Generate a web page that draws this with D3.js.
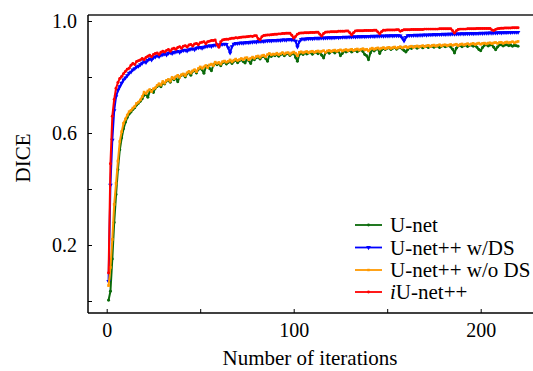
<!DOCTYPE html>
<html>
<head>
<meta charset="utf-8">
<script src="https://cdn.jsdelivr.net/npm/d3@7"></script>
<style>
  body { margin: 0; background: #fff; }
  text { font-family: "Liberation Serif", "Times New Roman", serif; fill: #000; }
</style>
</head>
<body>
<div id="chart"></div>
<script>
// DICE per iteration (iteration 1..220)
const unet = [
  0.003, 0.035, 0.150, 0.280, 0.380, 0.470, 0.540, 0.582, 0.615, 0.638,
  0.655, 0.668, 0.675, 0.684, 0.690, 0.700, 0.706, 0.713, 0.722, 0.735,
  0.738, 0.728, 0.748, 0.752, 0.745, 0.760, 0.766, 0.772, 0.765, 0.778,
  0.775, 0.786, 0.789, 0.781, 0.796, 0.790, 0.799, 0.783, 0.800, 0.806,
  0.808, 0.800, 0.812, 0.817, 0.806, 0.820, 0.823, 0.814, 0.827, 0.832,
  0.826, 0.813, 0.836, 0.838, 0.830, 0.822, 0.842, 0.850, 0.844, 0.848,
  0.840, 0.851, 0.854, 0.846, 0.852, 0.857, 0.848, 0.856, 0.859, 0.851,
  0.858, 0.862, 0.855, 0.850, 0.864, 0.858, 0.848, 0.866, 0.862, 0.869,
  0.871, 0.864, 0.872, 0.874, 0.866, 0.856, 0.878, 0.873, 0.879, 0.876,
  0.881, 0.874, 0.880, 0.883, 0.876, 0.882, 0.884, 0.877, 0.882, 0.885,
  0.870, 0.856, 0.880, 0.886, 0.880, 0.887, 0.882, 0.886, 0.888, 0.881,
  0.887, 0.889, 0.883, 0.888, 0.878, 0.868, 0.887, 0.891, 0.885, 0.890,
  0.892, 0.886, 0.891, 0.893, 0.876, 0.884, 0.894, 0.889, 0.893, 0.895,
  0.889, 0.894, 0.896, 0.890, 0.895, 0.897, 0.891, 0.880, 0.876, 0.862,
  0.886, 0.898, 0.893, 0.899, 0.901, 0.884, 0.897, 0.902, 0.898, 0.903,
  0.904, 0.898, 0.903, 0.905, 0.899, 0.904, 0.906, 0.900, 0.895, 0.889,
  0.898, 0.906, 0.902, 0.907, 0.908, 0.903, 0.907, 0.909, 0.904, 0.908,
  0.910, 0.905, 0.909, 0.911, 0.906, 0.910, 0.911, 0.905, 0.910, 0.912,
  0.908, 0.911, 0.912, 0.907, 0.899, 0.886, 0.903, 0.911, 0.913, 0.908,
  0.912, 0.914, 0.909, 0.913, 0.914, 0.910, 0.913, 0.906, 0.898, 0.894,
  0.905, 0.913, 0.915, 0.911, 0.914, 0.915, 0.906, 0.897, 0.907, 0.914,
  0.915, 0.911, 0.914, 0.915, 0.912, 0.914, 0.910, 0.913, 0.912, 0.910
];
const unetppDS = [
  0.070, 0.414, 0.575, 0.680, 0.730, 0.752, 0.766, 0.778, 0.790, 0.797,
  0.805, 0.814, 0.818, 0.826, 0.830, 0.836, 0.839, 0.844, 0.850, 0.855,
  0.852, 0.860, 0.865, 0.861, 0.869, 0.872, 0.876, 0.873, 0.878, 0.880,
  0.883, 0.879, 0.885, 0.887, 0.884, 0.888, 0.890, 0.892, 0.888, 0.893,
  0.895, 0.896, 0.893, 0.898, 0.900, 0.901, 0.898, 0.903, 0.905, 0.906,
  0.903, 0.907, 0.909, 0.910, 0.912, 0.909, 0.913, 0.914, 0.915, 0.913,
  0.916, 0.917, 0.918, 0.917, 0.904, 0.886, 0.909, 0.918, 0.920, 0.920,
  0.921, 0.922, 0.921, 0.923, 0.924, 0.923, 0.925, 0.925, 0.926, 0.925,
  0.927, 0.927, 0.928, 0.927, 0.929, 0.929, 0.930, 0.929, 0.931, 0.931,
  0.931, 0.932, 0.931, 0.933, 0.933, 0.932, 0.934, 0.934, 0.933, 0.934,
  0.928, 0.908, 0.926, 0.935, 0.936, 0.935, 0.937, 0.937, 0.938, 0.937,
  0.938, 0.939, 0.938, 0.939, 0.940, 0.939, 0.940, 0.940, 0.941, 0.940,
  0.941, 0.941, 0.942, 0.941, 0.942, 0.942, 0.943, 0.942, 0.943, 0.943,
  0.943, 0.944, 0.943, 0.944, 0.944, 0.944, 0.945, 0.944, 0.945, 0.945,
  0.945, 0.946, 0.945, 0.946, 0.946, 0.946, 0.947, 0.946, 0.947, 0.947,
  0.947, 0.948, 0.947, 0.948, 0.948, 0.948, 0.947, 0.940, 0.929, 0.942,
  0.948, 0.949, 0.949, 0.949, 0.950, 0.949, 0.950, 0.950, 0.950, 0.951,
  0.950, 0.951, 0.951, 0.951, 0.952, 0.951, 0.952, 0.952, 0.952, 0.953,
  0.952, 0.953, 0.953, 0.953, 0.954, 0.953, 0.954, 0.954, 0.954, 0.955,
  0.954, 0.955, 0.955, 0.955, 0.956, 0.955, 0.956, 0.956, 0.956, 0.957,
  0.956, 0.957, 0.957, 0.957, 0.958, 0.957, 0.958, 0.958, 0.958, 0.959,
  0.958, 0.959, 0.959, 0.959, 0.960, 0.959, 0.960, 0.960, 0.960, 0.960
];
const unetppNoDS = [
  0.055, 0.120, 0.220, 0.345, 0.420, 0.500, 0.570, 0.605, 0.635, 0.650,
  0.664, 0.676, 0.681, 0.689, 0.695, 0.706, 0.710, 0.718, 0.730, 0.746,
  0.741, 0.750, 0.755, 0.748, 0.758, 0.761, 0.770, 0.776, 0.771, 0.784,
  0.778, 0.788, 0.791, 0.785, 0.799, 0.794, 0.801, 0.806, 0.799, 0.808,
  0.811, 0.805, 0.815, 0.820, 0.814, 0.822, 0.826, 0.819, 0.830, 0.836,
  0.831, 0.836, 0.841, 0.834, 0.843, 0.846, 0.841, 0.853, 0.849, 0.852,
  0.846, 0.855, 0.857, 0.853, 0.856, 0.861, 0.854, 0.860, 0.864, 0.859,
  0.862, 0.866, 0.862, 0.868, 0.869, 0.862, 0.867, 0.871, 0.867, 0.873,
  0.875, 0.870, 0.876, 0.878, 0.872, 0.880, 0.884, 0.879, 0.882, 0.881,
  0.885, 0.880, 0.883, 0.887, 0.882, 0.886, 0.887, 0.881, 0.886, 0.889,
  0.885, 0.876, 0.888, 0.890, 0.886, 0.889, 0.891, 0.887, 0.890, 0.892,
  0.888, 0.891, 0.893, 0.889, 0.892, 0.894, 0.888, 0.893, 0.895, 0.891,
  0.894, 0.896, 0.892, 0.895, 0.897, 0.893, 0.896, 0.898, 0.894, 0.897,
  0.899, 0.895, 0.898, 0.900, 0.896, 0.899, 0.901, 0.897, 0.899, 0.893,
  0.900, 0.903, 0.899, 0.902, 0.904, 0.900, 0.903, 0.905, 0.901, 0.904,
  0.906, 0.902, 0.905, 0.907, 0.903, 0.906, 0.908, 0.904, 0.907, 0.909,
  0.905, 0.908, 0.910, 0.906, 0.909, 0.911, 0.907, 0.910, 0.912, 0.908,
  0.911, 0.913, 0.909, 0.912, 0.914, 0.910, 0.913, 0.915, 0.911, 0.914,
  0.915, 0.912, 0.914, 0.916, 0.913, 0.915, 0.917, 0.912, 0.916, 0.918,
  0.914, 0.917, 0.919, 0.915, 0.918, 0.920, 0.916, 0.919, 0.921, 0.917,
  0.920, 0.921, 0.918, 0.921, 0.922, 0.919, 0.922, 0.923, 0.920, 0.923,
  0.924, 0.920, 0.923, 0.925, 0.922, 0.924, 0.926, 0.922, 0.925, 0.927
];
const iunetpp = [
  0.100, 0.490, 0.660, 0.720, 0.760, 0.780, 0.795, 0.802, 0.812, 0.820,
  0.828, 0.831, 0.842, 0.848, 0.845, 0.855, 0.858, 0.861, 0.866, 0.862,
  0.870, 0.874, 0.878, 0.872, 0.880, 0.884, 0.886, 0.880, 0.888, 0.892,
  0.889, 0.895, 0.898, 0.892, 0.900, 0.903, 0.899, 0.905, 0.908, 0.903,
  0.910, 0.912, 0.907, 0.914, 0.916, 0.911, 0.918, 0.920, 0.915, 0.922,
  0.924, 0.926, 0.919, 0.926, 0.928, 0.930, 0.930, 0.932, 0.916, 0.906,
  0.926, 0.932, 0.934, 0.935, 0.935, 0.937, 0.938, 0.938, 0.940, 0.939,
  0.941, 0.942, 0.943, 0.943, 0.944, 0.945, 0.946, 0.945, 0.947, 0.947,
  0.937, 0.933, 0.944, 0.948, 0.949, 0.950, 0.950, 0.951, 0.952, 0.953,
  0.953, 0.954, 0.954, 0.955, 0.955, 0.956, 0.956, 0.956, 0.949, 0.939,
  0.945, 0.953, 0.956, 0.957, 0.957, 0.958, 0.958, 0.958, 0.959, 0.959,
  0.959, 0.960, 0.960, 0.953, 0.946, 0.955, 0.960, 0.961, 0.961, 0.962,
  0.962, 0.962, 0.962, 0.963, 0.963, 0.963, 0.963, 0.964, 0.964, 0.958,
  0.950, 0.958, 0.964, 0.965, 0.965, 0.965, 0.965, 0.966, 0.966, 0.966,
  0.966, 0.966, 0.967, 0.967, 0.961, 0.954, 0.962, 0.967, 0.967, 0.968,
  0.968, 0.968, 0.968, 0.968, 0.969, 0.969, 0.963, 0.966, 0.969, 0.969,
  0.969, 0.969, 0.970, 0.970, 0.970, 0.970, 0.970, 0.970, 0.970, 0.971,
  0.971, 0.971, 0.971, 0.971, 0.971, 0.971, 0.971, 0.972, 0.972, 0.972,
  0.972, 0.972, 0.972, 0.972, 0.965, 0.957, 0.965, 0.970, 0.971, 0.971,
  0.971, 0.971, 0.972, 0.972, 0.972, 0.972, 0.972, 0.973, 0.973, 0.973,
  0.973, 0.973, 0.973, 0.973, 0.973, 0.968, 0.966, 0.970, 0.972, 0.973,
  0.974, 0.974, 0.975, 0.975, 0.975, 0.975, 0.976, 0.976, 0.976, 0.976
];

const seriesNames = ['U-net', 'U-net++ w/DS', 'U-net++ w/o DS', 'iU-net++'];
const seriesValues = [unet, unetppDS, unetppNoDS, iunetpp];
const xTicks = [0, 50, 100, 150, 200];
const xTickLabels = ['0', '', '100', '', '200'];
const yTicks = [0, 0.2, 0.4, 0.6, 0.8, 1.0];
const yTickLabels = ['', '0.2', '', '0.6', '', '1.0'];

const colors = ['#0a6a0a', '#0000ff', '#ff9900', '#ff0000'];
const markers = [d3.symbolCircle, d3.symbolTriangle, d3.symbolSquare, d3.symbolCircle];

const W = 533, H = 371;
const frame = { left: 88, top: 15, right: 533, bottom: 313 };

const svg = d3.select('#chart').append('svg')
  .attr('width', W)
  .attr('height', H);

const x = d3.scaleLinear().domain([0, 200]).range([106.7, 480.7]);
const y = d3.scaleLinear().domain([0, 1]).range([301, 21]);

// clip to plot frame
svg.append('clipPath').attr('id', 'plot')
  .append('rect')
  .attr('x', frame.left).attr('y', frame.top)
  .attr('width', frame.right - frame.left).attr('height', frame.bottom - frame.top);

const line = d3.line()
  .x((d, i) => x(i + 1))
  .y(d => y(d));

const plot = svg.append('g').attr('clip-path', 'url(#plot)');

seriesValues.forEach((vals, k) => {
  plot.append('path')
    .datum(vals)
    .attr('fill', 'none')
    .attr('stroke', colors[k])
    .attr('stroke-width', 2)
    .attr('stroke-linejoin', 'round')
    .attr('d', line);

  const sym = d3.symbol().type(markers[k]).size(k === 1 ? 9 : 7);
  plot.append('g').selectAll('path')
    .data(vals)
    .enter().append('path')
    .attr('transform', (d, i) => `translate(${x(i + 1)},${y(d)})` + (k === 1 ? ' rotate(180)' : ''))
    .attr('d', sym)
    .attr('fill', colors[k]);
});

// frame: top line (grey), left and bottom axes
svg.append('line')
  .attr('x1', frame.left).attr('x2', frame.right)
  .attr('y1', frame.top).attr('y2', frame.top)
  .attr('stroke', '#555').attr('stroke-width', 2);

const xAxis = svg.append('g')
  .attr('transform', `translate(0,${frame.bottom})`)
  .call(d3.axisBottom(x)
    .tickValues(xTicks)
    .tickSize(-4)
    .tickPadding(10)
    .tickFormat((d, i) => xTickLabels[i]));
xAxis.select('.domain').remove();
xAxis.append('line')
  .attr('x1', frame.left).attr('x2', frame.right)
  .attr('stroke', '#000').attr('stroke-width', 1.5);

const yAxis = svg.append('g')
  .attr('transform', `translate(${frame.left},0)`)
  .call(d3.axisLeft(y)
    .tickValues(yTicks)
    .tickSize(-4)
    .tickPadding(11)
    .tickFormat((d, i) => yTickLabels[i]));
yAxis.select('.domain').remove();
yAxis.append('line')
  .attr('y1', frame.top).attr('y2', frame.bottom)
  .attr('stroke', '#000').attr('stroke-width', 1.5);

svg.selectAll('.tick line').attr('stroke', '#000').attr('stroke-width', 1);
svg.selectAll('.tick text')
  .style('font-family', '"Liberation Serif", serif')
  .style('font-size', '20px')
  .attr('fill', '#000');

// axis titles
svg.append('text')
  .attr('x', 310).attr('y', 365)
  .attr('text-anchor', 'middle')
  .style('font-size', '21px')
  .text('Number of iterations');

svg.append('text')
  .attr('transform', 'translate(30,158) rotate(-90)')
  .attr('text-anchor', 'middle')
  .style('font-size', '21px')
  .text('DICE');

// legend
const legend = svg.append('g');
const rowY = [225, 247.5, 270, 292];
seriesNames.forEach((name, k) => {
  const g = legend.append('g').attr('transform', `translate(355,${rowY[k]})`);
  g.append('line')
    .attr('x1', 0).attr('x2', 27)
    .attr('stroke', colors[k]).attr('stroke-width', 1.8);
  g.append('path')
    .attr('transform', 'translate(13.5,0)' + (k === 1 ? ' rotate(180)' : ''))
    .attr('d', d3.symbol().type(markers[k]).size(k === 1 ? 10 : 6))
    .attr('fill', colors[k]);
  const t = g.append('text')
    .attr('x', 35).attr('y', 7)
    .style('font-size', '21px');
  if (name.startsWith('iU')) {
    t.append('tspan').style('font-style', 'italic').text('i');
    t.append('tspan').text(name.slice(1));
  } else {
    t.text(name);
  }
});
</script>
</body>
</html>
